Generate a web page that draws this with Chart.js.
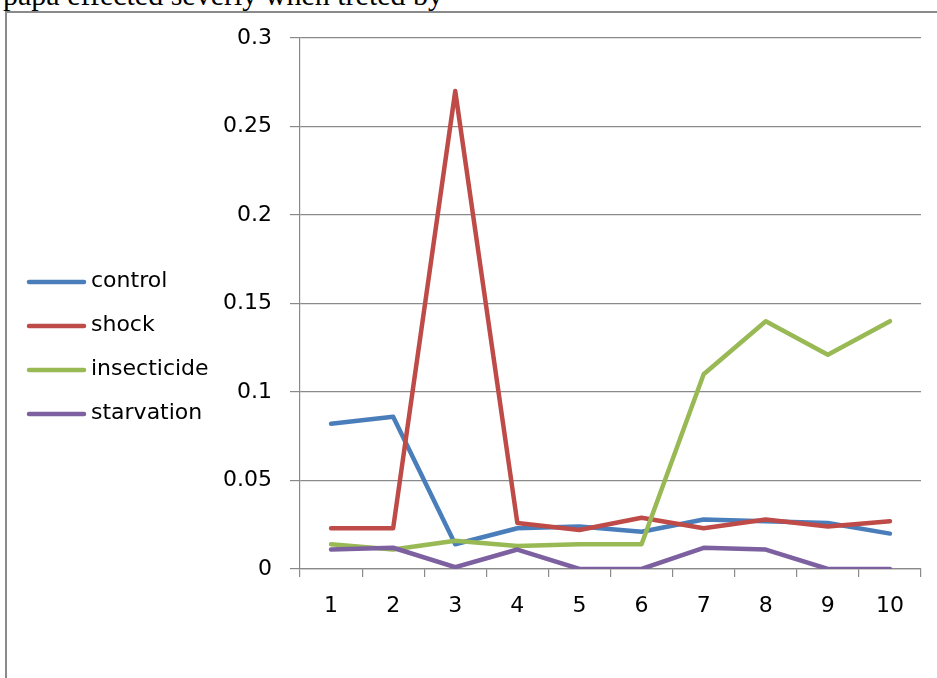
<!DOCTYPE html>
<html>
<head>
<meta charset="utf-8">
<script src="https://cdn.jsdelivr.net/npm/chart.js@4/dist/chart.umd.min.js"></script>
<style>
  html, body { margin: 0; padding: 0; background: #fff; }
  body { width: 937px; height: 678px; position: relative; overflow: hidden; }
  .caption {
    position: absolute; left: 3px; top: -20px;
    font-family: "Liberation Serif", "Times New Roman", serif;
    font-size: 30px; line-height: 30px; color: #000; white-space: nowrap;
  }
  .frame-top { position: absolute; left: 5px; top: 11px; width: 932px; height: 2px; background: #8a8a8a; }
  .frame-left { position: absolute; left: 5px; top: 11px; width: 2px; height: 667px; background: #8a8a8a; }
  #wrap { position: absolute; left: 0; top: 0; width: 937px; height: 678px; }
</style>
</head>
<body>
<div class="caption">papa effected severly when treted by</div>
<div class="frame-top"></div>
<div class="frame-left"></div>
<div id="wrap"><canvas id="chart" width="937" height="678"></canvas></div>
<script>
// Categories along the x axis
const categories = ['1', '2', '3', '4', '5', '6', '7', '8', '9', '10'];

// Series values
const control     = [0.082, 0.086, 0.014, 0.023, 0.024, 0.021, 0.028, 0.027, 0.026, 0.020];
const shock       = [0.023, 0.023, 0.270, 0.026, 0.022, 0.029, 0.023, 0.028, 0.024, 0.027];
const insecticide = [0.014, 0.011, 0.016, 0.013, 0.014, 0.014, 0.110, 0.140, 0.121, 0.140];
const starvation  = [0.011, 0.012, 0.001, 0.011, 0.000, 0.000, 0.012, 0.011, 0.000, 0.000];

// Y axis ticks and their labels
const yTicks      = [0, 0.05, 0.1, 0.15, 0.2, 0.25, 0.3];
const yTickLabels = ['0', '0.05', '0.1', '0.15', '0.2', '0.25', '0.3'];

const FONT = { family: '"DejaVu Sans", sans-serif', size: 22 };
const GRID = '#8a8a8a';

function series(label, data, color, order) {
  return {
    label, data, order,
    borderColor: color, backgroundColor: color,
    borderWidth: 4.5, pointRadius: 0, pointHoverRadius: 0,
    tension: 0, borderCapStyle: 'round', borderJoinStyle: 'round', fill: false
  };
}

// Legend on the left: a short coloured line followed by the series name
const sideLegend = {
  id: 'sideLegend',
  afterDraw(chart) {
    const ctx = chart.ctx;
    ctx.save();
    ctx.font = FONT.size + 'px ' + FONT.family;
    ctx.textBaseline = 'middle';
    ctx.textAlign = 'left';
    chart.data.datasets.forEach((ds, i) => {
      const y = 282 + i * 44;
      ctx.strokeStyle = ds.borderColor;
      ctx.lineWidth = 4.5;
      ctx.lineCap = 'round';
      ctx.beginPath();
      ctx.moveTo(29, y);
      ctx.lineTo(84, y);
      ctx.stroke();
      ctx.fillStyle = '#000';
      ctx.fillText(ds.label, 91, y - 1);
    });
    ctx.restore();
  }
};

new Chart(document.getElementById('chart'), {
  type: 'line',
  data: {
    labels: categories,
    datasets: [
      series('control', control, '#4a7ebb', 3),
      series('shock', shock, '#be4b48', 2),
      series('insecticide', insecticide, '#98b954', 1),
      series('starvation', starvation, '#7d60a0', 0)
    ]
  },
  options: {
    responsive: false,
    animation: false,
    events: [],
    layout: { padding: { left: 200, right: 16, top: 38, bottom: 49 } },
    plugins: { legend: { display: false }, tooltip: { enabled: false } },
    scales: {
      x: {
        type: 'category',
        offset: true,
        grid: { display: true, offset: true, drawOnChartArea: false, drawTicks: true, tickLength: 8, color: GRID, lineWidth: 1.2 },
        border: { display: true, color: GRID, width: 1.2 },
        ticks: { color: '#000', font: FONT, padding: 16, maxRotation: 0, autoSkip: false },
        afterFit(scale) { scale.height = 60; }
      },
      y: {
        min: 0, max: 0.3,
        afterBuildTicks(scale) { scale.ticks = yTicks.map(v => ({ value: v })); },
        grid: { color: GRID, lineWidth: 1.2, drawTicks: true, tickLength: 10 },
        border: { display: true, color: GRID, width: 1.2 },
        ticks: { color: '#000', font: FONT, padding: 18, callback: (v, i) => yTickLabels[i] },
        afterFit(scale) { scale.width = 100; }
      }
    }
  },
  plugins: [sideLegend]
});
</script>
</body>
</html>
